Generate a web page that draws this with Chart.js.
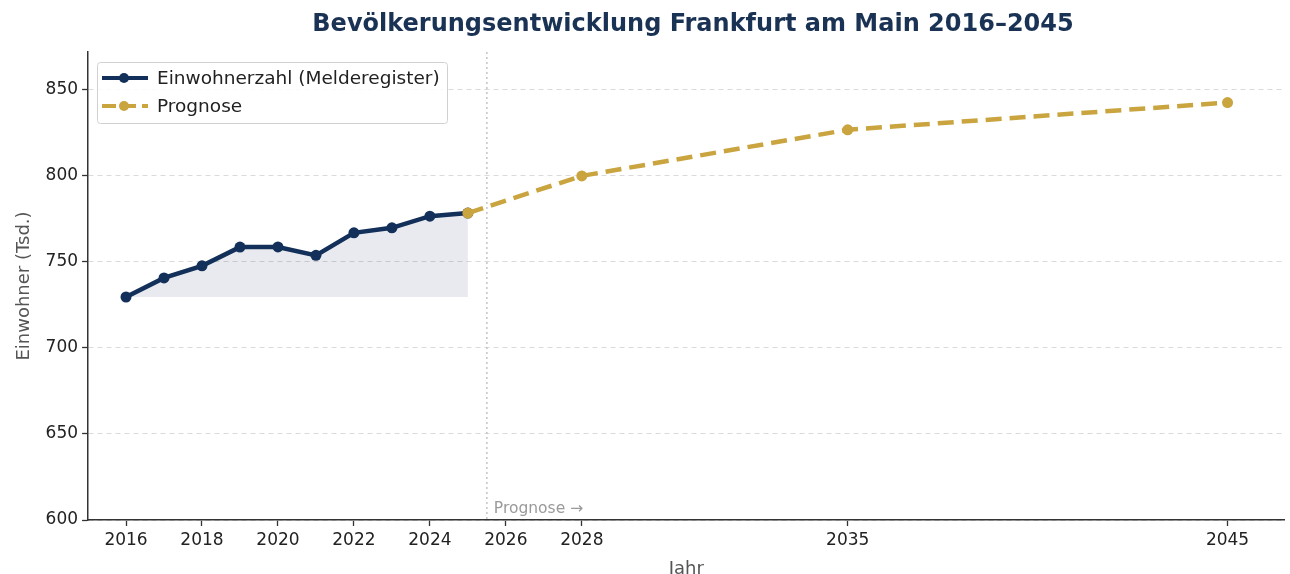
<!DOCTYPE html>
<html lang="de">
<head>
<meta charset="UTF-8">
<title>Bevölkerungsentwicklung Frankfurt</title>
<script src="https://cdn.jsdelivr.net/npm/chart.js@4/dist/chart.umd.min.js"></script>
<style>
  html, body { margin: 0; padding: 0; background: #fff; overflow: hidden; }
  #wrap { width: 1290px; height: 574px; }
</style>
</head>
<body>
<div id="wrap"><canvas id="chart"></canvas></div>
<script>
// Daten
const jahreIst = [2016, 2017, 2018, 2019, 2020, 2021, 2022, 2023, 2024, 2025];
const einwohnerIst = [729.6, 740.7, 747.7, 758.6, 758.7, 753.8, 766.9, 769.8, 776.6, 778.4];
const jahrePrognose = [2025, 2028, 2035, 2045];
const einwohnerPrognose = [778.4, 800.0, 826.8, 842.6];
const xTicks = [2016, 2018, 2020, 2022, 2024, 2026, 2028, 2035, 2045];
const yTicks = [600, 650, 700, 750, 800, 850];

const NAVY = '#13305a';
const GOLD = '#c9a43f';
const FONT = "'DejaVu Sans', sans-serif";

function pts(xs, ys) {
  return xs.map((x, i) => ({ x: x, y: ys[i] }));
}

// Titel, Legende, Trennlinie
const extras = {
  id: 'extras',
  beforeDatasetsDraw(chart) {
    const ctx = chart.ctx, a = chart.chartArea;
    const xp = chart.scales.x.getPixelForValue(2025.5);
    ctx.save();
    ctx.strokeStyle = '#c4c4c4';
    ctx.lineWidth = 1.5;
    ctx.setLineDash([2, 3]);
    ctx.beginPath();
    ctx.moveTo(xp, a.top);
    ctx.lineTo(xp, a.bottom);
    ctx.stroke();
    ctx.setLineDash([]);
    ctx.fillStyle = '#9a9a9a';
    ctx.font = '15.5px ' + FONT;
    ctx.textBaseline = 'alphabetic';
    ctx.fillText('Prognose \u2192', xp + 7, a.bottom - 7);
    ctx.restore();
  },
  afterDraw(chart) {
    const ctx = chart.ctx;
    ctx.save();
    ctx.fillStyle = '#1a3355';
    ctx.font = 'bold 24px ' + FONT;
    ctx.textAlign = 'center';
    ctx.textBaseline = 'middle';
    ctx.fillText('Bevölkerungsentwicklung Frankfurt am Main 2016\u20132045', 693, 25);

    // Legende
    const lx = 97, ly = 62, lw = 350, lh = 61;
    ctx.fillStyle = 'rgba(255,255,255,0.85)';
    ctx.strokeStyle = '#d0d0d0';
    ctx.lineWidth = 1;
    ctx.beginPath();
    ctx.roundRect(lx + 0.5, ly + 0.5, lw, lh, 3);
    ctx.fill();
    ctx.stroke();
    ctx.textAlign = 'left';
    ctx.font = '18.5px ' + FONT;
    chart.data.datasets.forEach((ds, i) => {
      const yy = ly + 16 + i * 28;
      ctx.strokeStyle = ds.borderColor;
      ctx.lineWidth = 4;
      ctx.setLineDash(i === 1 ? [14, 6] : []);
      ctx.beginPath();
      ctx.moveTo(lx + 5, yy);
      ctx.lineTo(lx + 51, yy);
      ctx.stroke();
      ctx.setLineDash([]);
      ctx.fillStyle = ds.borderColor;
      ctx.beginPath();
      ctx.arc(lx + 27, yy, 5, 0, Math.PI * 2);
      ctx.fill();
      ctx.fillStyle = '#222';
      ctx.fillText(ds.label, lx + 60, yy + 1);
    });
    ctx.restore();
  }
};

new Chart(document.getElementById('chart'), {
  type: 'line',
  data: {
    datasets: [
      {
        label: 'Einwohnerzahl (Melderegister)',
        data: pts(jahreIst, einwohnerIst),
        borderColor: NAVY,
        backgroundColor: 'rgba(40,50,100,0.10)',
        pointBackgroundColor: NAVY,
        borderWidth: 4.5,
        pointRadius: 5.5,
        pointBorderWidth: 0,
        tension: 0,
        fill: { value: einwohnerIst[0] },
        order: 2
      },
      {
        label: 'Prognose',
        data: pts(jahrePrognose, einwohnerPrognose),
        borderColor: GOLD,
        pointBackgroundColor: GOLD,
        borderWidth: 4.5,
        borderDash: [16, 8],
        pointRadius: 5.5,
        pointBorderWidth: 0,
        tension: 0,
        fill: false,
        order: 1
      }
    ]
  },
  options: {
    responsive: true,
    maintainAspectRatio: false,
    animation: false,
    layout: { padding: { top: 52, right: 0, left: 14, bottom: 0 } },
    plugins: {
      legend: { display: false },
      title: { display: false },
      tooltip: { enabled: false }
    },
    scales: {
      x: {
        type: 'linear',
        min: 2015,
        max: 2046.5,
        afterBuildTicks(s) { s.ticks = xTicks.map(v => ({ value: v })); },
        ticks: {
          color: '#222',
          font: { family: FONT, size: 17 },
          padding: 4,
          maxRotation: 0,
          autoSkip: false,
          callback: v => String(v)
        },
        grid: { drawOnChartArea: false, drawTicks: true, tickLength: 6, tickColor: '#333', tickWidth: 1.3 },
        border: { color: '#333', width: 1.5 },
        title: { display: true, text: 'Jahr', color: '#555', font: { family: FONT, size: 18 }, padding: { top: 4, bottom: -6 } }
      },
      y: {
        min: 600,
        max: 872,
        afterBuildTicks(s) { s.ticks = yTicks.map(v => ({ value: v })); },
        ticks: {
          color: '#222',
          font: { family: FONT, size: 17 },
          padding: 4
        },
        grid: {
          color: '#dadada',
          lineWidth: 1,
          tickBorderDash: [],
          tickColor: '#333',
          tickLength: 6,
          tickWidth: 1.3
        },
        border: { color: '#333', width: 1.5, dash: [5, 4] },
        title: { display: true, text: 'Einwohner (Tsd.)', color: '#555', font: { family: FONT, size: 18 }, padding: { top: 0, bottom: 6 } }
      }
    }
  },
  plugins: [extras]
});
</script>
</body>
</html>
